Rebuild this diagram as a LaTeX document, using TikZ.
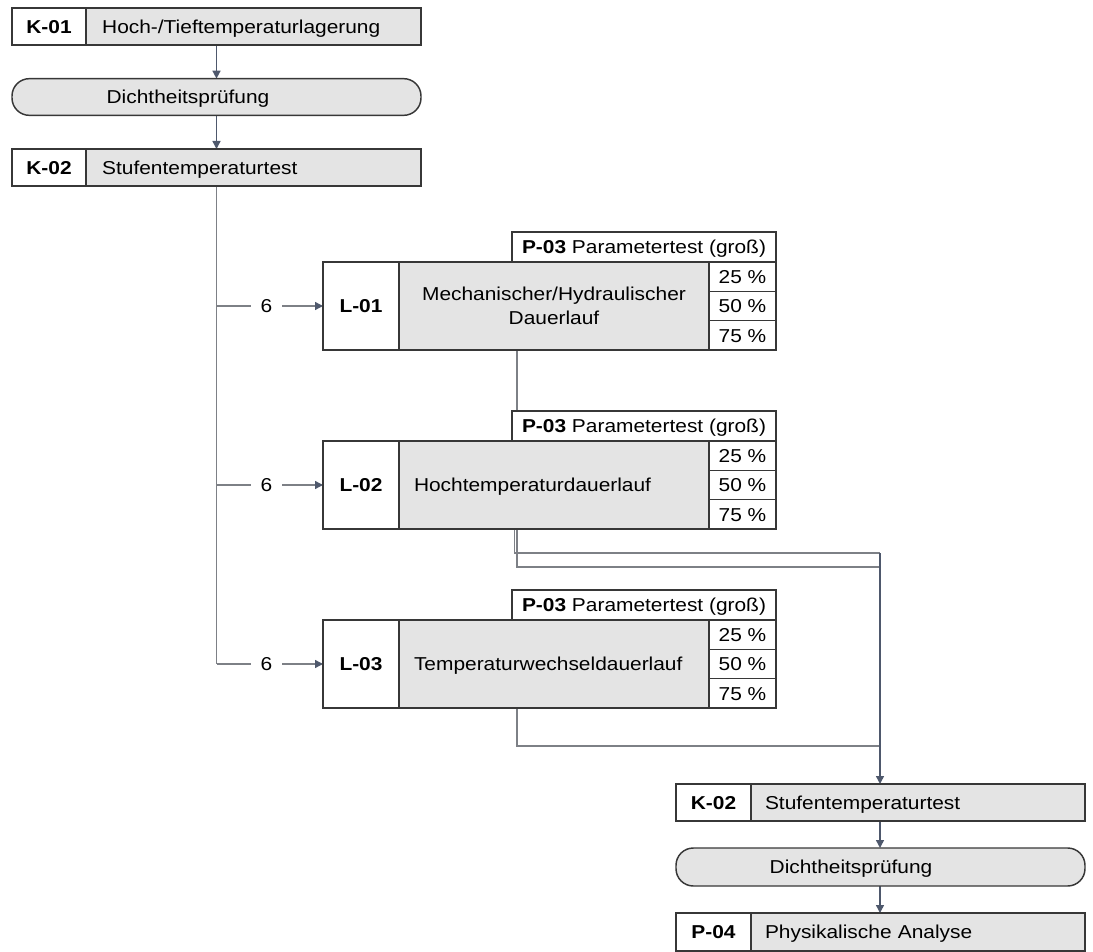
\documentclass[tikz,border=0pt]{standalone}
\usepackage{fontspec}
\setmainfont{Liberation Sans}[FakeStretch=1.12]
\usetikzlibrary{arrows.meta,backgrounds}
\definecolor{boxfill}{RGB}{228,228,228}
\definecolor{boxline}{RGB}{55,55,55}
\definecolor{conn}{RGB}{125,128,134}
\definecolor{arr}{RGB}{78,88,108}
\begin{document}
\begin{tikzpicture}[x=0.75pt,y=-0.75pt,
  every node/.style={outer sep=0pt},
  base/.style={draw=boxline, line width=1.1pt, inner sep=0pt, anchor=north west,
    font=\fontsize{14}{18}\selectfont},
  oneline/.style={text height=10pt, text depth=0pt},
  idcell/.style={base, oneline, fill=white, minimum width=55.5pt, minimum height=27.75pt,
    font=\fontsize{14}{18}\selectfont\bfseries},
  desccell/.style={base, oneline, fill=boxfill, minimum width=251.25pt, minimum height=27.75pt,
    text width=227pt, align=left},
  pill/.style={draw=boxline, line width=1.1pt, fill=boxfill, rounded corners=13pt,
    minimum width=306.75pt, minimum height=27.5pt, inner sep=0pt, oneline,
    font=\fontsize{14}{18}\selectfont},
  hdr/.style={base, oneline, fill=white, minimum width=198pt, minimum height=22.5pt},
  lid/.style={base, oneline, fill=white, minimum width=57pt, minimum height=66pt,
    font=\fontsize{14}{18}\selectfont\bfseries},
  ldesc/.style={base, fill=boxfill, minimum width=232.5pt, minimum height=66pt},
  ldescl/.style={ldesc, oneline, text width=210pt, align=left},
  ldescc/.style={ldesc, align=center},
  pct/.style={base, oneline, fill=white, minimum width=50.25pt, minimum height=22pt},
  conn/.style={draw=conn, line width=1pt},
  arrline/.style={draw=arr, line width=1.1pt, -{Triangle[length=6pt,width=6pt]}},
  brarr/.style={draw=conn, line width=1pt, -{Triangle[length=6pt,width=6pt,color=arr]}},
  cnt/.style={fill=white, inner xsep=7pt, inner ysep=1pt, oneline, font=\fontsize{14}{18}\selectfont}
]
\useasboundingbox (0,0) rectangle (1093,952);

% ---- top chain
\node[idcell] (k1id) at (12,8) {K-01};
\node[desccell] (k1t) at (86,8) {Hoch-/Tieftemperaturlagerung};
\node[pill] (d1) at (216.5,97) {Dichtheitsprüfung\hspace*{42.75pt}};
\node[idcell] (k2id) at (12,149) {K-02};
\node[desccell] (k2t) at (86,149) {Stufentemperaturtest};

% ---- L-01
\node[hdr] (h1) at (512,232) {\textbf{P-03} Parametertest (groß)};
\node[lid] (l1id) at (323,262) {L-01};
\node[ldescc] (l1d) at (399,262) {Mechanischer/Hydraulischer\\Dauerlauf};
\node[pct] (l1a) at (709,262) {25 \%};
\node[pct] (l1b) at (709,291.33) {50 \%};
\node[pct] (l1c) at (709,320.67) {75 \%};

% ---- L-02
\node[hdr] (h2) at (512,411) {\textbf{P-03} Parametertest (groß)};
\node[lid] (l2id) at (323,441) {L-02};
\node[ldescl] (l2d) at (399,441) {Hochtemperaturdauerlauf};
\node[pct] (l2a) at (709,441) {25 \%};
\node[pct] (l2b) at (709,470.33) {50 \%};
\node[pct] (l2c) at (709,499.67) {75 \%};

% ---- L-03
\node[hdr] (h3) at (512,590) {\textbf{P-03} Parametertest (groß)};
\node[lid] (l3id) at (323,620) {L-03};
\node[ldescl] (l3d) at (399,620) {Temperaturwechseldauerlauf};
\node[pct] (l3a) at (709,620) {25 \%};
\node[pct] (l3b) at (709,649.33) {50 \%};
\node[pct] (l3c) at (709,678.67) {75 \%};

% ---- bottom chain
\node[idcell, minimum width=56.25pt] (k3id) at (676,784) {K-02};
\node[desccell, minimum width=250.5pt, text width=229.5pt] (k3t) at (751,784) {Stufentemperaturtest};
\node[pill, minimum height=28.5pt] (d2) at (880.5,867) {Dichtheitsprüfung\hspace*{44.25pt}};
\node[idcell, minimum width=56.25pt, minimum height=28.5pt] (p4id) at (676,913) {P-04};
\node[desccell, minimum width=250.5pt, text width=229.5pt, minimum height=28.5pt] (p4t) at (751,913) {Physikalische Analyse};

% ---- junction coordinates
\coordinate (trunk) at (d1.south |- k2t.south);
\coordinate (x1) at (517,0);
\coordinate (x2) at (514.5,0);
\coordinate (jx) at (880,0);
\coordinate (j1) at (880,567);
\coordinate (j2) at (880,553);
\coordinate (j3) at (880,746);

\begin{scope}[on background layer]
  \draw[arrline] (d1.north |- k1t.south) -- (d1.north);
  \draw[arrline] (d1.south) -- (d1.south |- k2t.north);
  \draw[conn] (trunk) -- (trunk |- l3id.west);
  \draw[brarr] (trunk |- l1id.west) -- node[cnt, pos=0.47] {6} (l1id.west);
  \draw[brarr] (trunk |- l2id.west) -- node[cnt, pos=0.47] {6} (l2id.west);
  \draw[brarr] (trunk |- l3id.west) -- node[cnt, pos=0.47] {6} (l3id.west);
  % outputs of the endurance runs
  \draw[conn] (x1 |- l1d.south) -- (x1 |- j1) -- (j1);
  \draw[conn] (x2 |- l2d.south) -- (x2 |- j2) -- (j2);
  \draw[conn] (x1 |- l3d.south) -- (x1 |- j3) -- (j3);
  \draw[arrline] (j2) -- (j2 |- k3t.north);
  \draw[arrline] (jx |- k3t.south) -- (jx |- d2.north);
  \draw[arrline] (jx |- d2.south) -- (jx |- p4t.north);
\end{scope}
\end{tikzpicture}
\end{document}
